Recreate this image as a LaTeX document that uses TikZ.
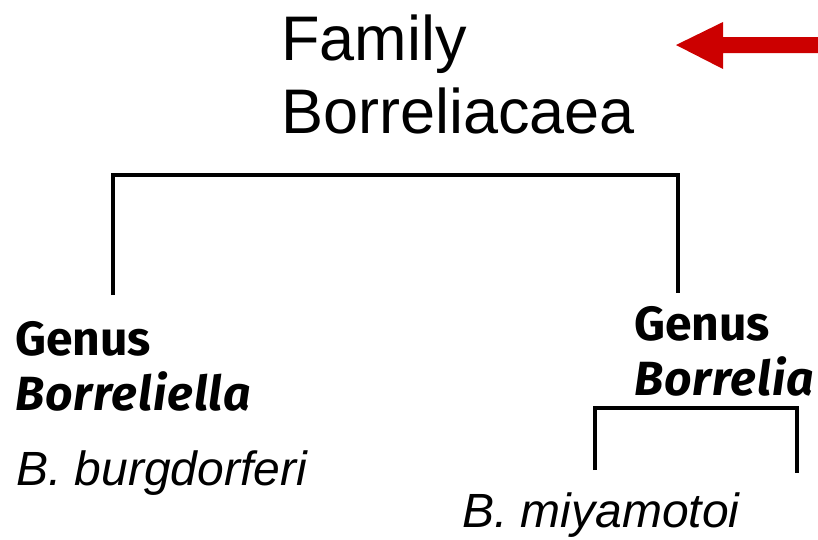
\documentclass[tikz,border=0pt]{standalone}
\usepackage{fontspec}
\setmainfont{Liberation Sans}
\newfontfamily\fira{Fira Sans}
\newfontfamily\firaspaced[LetterSpace=2]{Fira Sans}
\definecolor{arrowred}{HTML}{CC0000}
\begin{document}
\begin{tikzpicture}[x=1pt,y=-1pt,
  title/.style={font=\fontsize{63}{63}\selectfont, anchor=base west, inner sep=0},
  genus/.style={font=\fira\bfseries\fontsize{48}{48}\selectfont, anchor=base west, inner sep=0},
  genusit/.style={font=\firaspaced\bfseries\itshape\fontsize{48}{48}\selectfont, anchor=base west, inner sep=0},
  species/.style={font=\itshape\fontsize{48}{48}\selectfont, anchor=base west, inner sep=0},
  bracket/.style={line width=3.5pt, line join=miter}]
\useasboundingbox (0,0) rectangle (818,539);
% title
\node[title] (fam1) at (281,60) {Family};
\node[title] (fam2) at (281,133) {Borreliacaea};
% red arrow
\fill[arrowred] (818,37) -- (723,37) -- (723,22) -- (676,45) -- (723,69) -- (723,53) -- (818,53) -- cycle;
% genus labels
\node[genus] (g1) at (15,355) {Genus};
\node[genusit] (g1b) at (15,410) {Borreliella};
\node[genus] (g2) at (634,340) {Genus};
\node[genusit] (g2b) at (634,395) {Borrelia};
% species
\node[species] (s1) at (16,485) {B. burgdorferi};
\node[species] (s2) at (462,527) {B. miyamotoi};
% big bracket
\coordinate (bl) at (113,295);
\coordinate (br) at (678,293);
\draw[bracket] (bl) |- (678,175) -- (br);
% small bracket
\coordinate (sl) at (595,470);
\coordinate (sr) at (797,473);
\draw[bracket] (sl) |- (797,408) -- (sr);
\end{tikzpicture}
\end{document}
